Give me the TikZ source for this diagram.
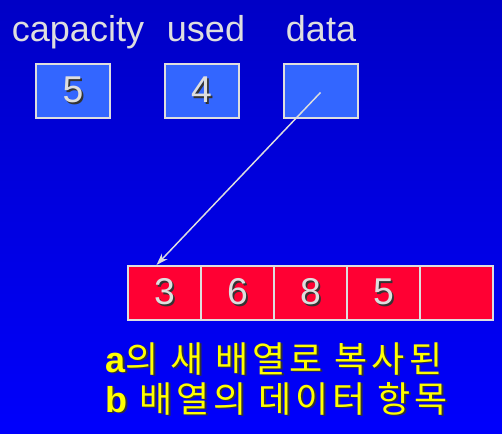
\documentclass[tikz,border=0pt]{standalone}
\usepackage{fontspec}
\usetikzlibrary{arrows.meta}
\setmainfont{Liberation Sans}
\newfontfamily\kofont{Noto Sans CJK KR}
\definecolor{bgtop}{RGB}{0,0,198}
\definecolor{bgbot}{RGB}{0,0,252}
\definecolor{boxblue}{RGB}{51,102,255}
\definecolor{cellred}{RGB}{255,0,51}
\definecolor{edgegray}{RGB}{222,222,222}
\definecolor{txtyellow}{RGB}{255,255,0}
\newcommand{\shadowtxt}[1]{\rlap{\hspace{1.3pt}\raisebox{-1.3pt}{\textcolor{black!80}{#1}}}#1}

\begin{document}
\begin{tikzpicture}[x=0.75pt,y=-0.75pt]
		\tikzstyle varbox=[draw=edgegray,line width=1.5pt,fill=boxblue,minimum width=55.5pt,minimum height=40.5pt,inner sep=0pt,text=edgegray,font=\fontsize{28}{30}\selectfont];
		\tikzstyle cellbox=[draw=edgegray,line width=1.5pt,fill=cellred,minimum width=54.75pt,minimum height=40.5pt,inner sep=0pt,text=edgegray,font=\fontsize{28}{30}\selectfont];
		\tikzstyle lbl=[text=edgegray,font=\fontsize{27}{30}\selectfont,inner sep=0pt,anchor=base];
		\tikzstyle kotext=[text=txtyellow,font=\kofont\addfontfeature{LetterSpace=11}\fontsize{27}{30}\selectfont,inner sep=0pt,anchor=base west];

		% BACKGROUND
		\useasboundingbox (0,0) rectangle (502,434);
		\shade[top color=bgtop,bottom color=bgbot] (0,0) rectangle (502,434);

		% LABELS
		\node[lbl] (capLbl) at (78,42) {capacity};
		\node[lbl] (usedLbl) at (206,42) {used};
		\node[lbl] (dataLbl) at (321,42) {data};

		% MEMBER VARIABLES
		\node[varbox] (cap) at (73,91) {\shadowtxt{5}};
		\node[varbox] (used) at (201.5,91) {\shadowtxt{4}};
		\node[varbox] (data) at (320.5,91) {};

		% ARRAY
		\foreach \v [count=\i] in {3,6,8,5,{}}
			\node[cellbox] (c\i) at (91.5+73*\i,293) {\shadowtxt{\v}};

		% POINTER
		\coordinate (ptr) at (320.5,92.5);
		\draw[->,>={Stealth[length=9pt,width=6pt]},edgegray,line width=1.1pt] (ptr) -- ([xshift=-6pt]c1.north);

		% CAPTION
		\node[kotext] (line1) at (105,372) {\shadowtxt{{\rmfamily\bfseries a}의 새 배열로 복사된}};
		\node[kotext] (line2) at (105,412) {\shadowtxt{{\rmfamily\bfseries b} 배열의 데이터 항목}};
\end{tikzpicture}
\end{document}
